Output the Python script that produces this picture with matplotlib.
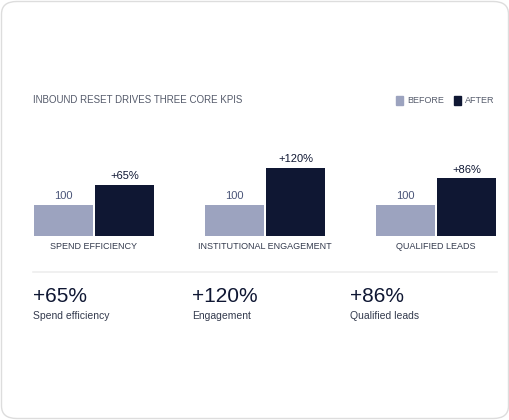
import matplotlib
matplotlib.use("Agg")
import matplotlib.pyplot as plt
from matplotlib.patches import FancyBboxPatch, Rectangle

categories = ["SPEND EFFICIENCY", "INSTITUTIONAL ENGAGEMENT", "QUALIFIED LEADS"]
before = [100, 100, 100]
after = [165, 220, 186]
after_labels = ["+65%", "+120%", "+86%"]
kpi_values = ["+65%", "+120%", "+86%"]
kpi_labels = ["Spend efficiency", "Engagement", "Qualified leads"]

plt.rcParams['font.family'] = ['Liberation Sans', 'DejaVu Sans']
W, H = 510, 420
fig = plt.figure(figsize=(5.1, 4.2), dpi=100)
fig.patch.set_facecolor("white")

card = FancyBboxPatch((1.5/W, 1.5/H), (W-3)/W, (H-3)/H, boxstyle="round,pad=0,rounding_size=0.03",
                      transform=fig.transFigure, facecolor="white", edgecolor="#dddddd", lw=1, zorder=-10)
fig.patches.append(card)

def fx(px): return px / W
def fy(py): return 1 - py / H

C_B, C_A = "#9ca3bf", "#0f1733"
ax = fig.add_axes([fx(33), fy(236), fx(497) - fx(33), fy(140) - fy(236)])
ax.set_zorder(5)
ax.patch.set_alpha(0)
ax.set_xlim(-0.356, 2.356)
ax.set_ylim(0, 310)
ax.axis("off")
w = 0.348
for i in range(len(categories)):
    ax.bar(i - 0.178, before[i], w, color=C_B)
    ax.bar(i + 0.178, after[i], w, color=C_A)
    ax.text(i - 0.178, before[i] + 12, str(before[i]), ha="center", va="bottom", fontsize=8, color="#4a5578")
    ax.text(i + 0.178, after[i] + 12, after_labels[i], ha="center", va="bottom", fontsize=8, color="#0f1733")
    ax.text(i, -18, categories[i], ha="center", va="top", fontsize=6.5, color="#333a4d")

fig.text(fx(33), fy(100), "INBOUND RESET DRIVES THREE CORE KPIS", fontsize=7, color="#555b6b", va="center")
for x0, c, lbl in [(396, C_B, "BEFORE"), (454, C_A, "AFTER")]:
    fig.patches.append(Rectangle((fx(x0), fy(105)), 7/W, 9/H, transform=fig.transFigure, color=c))
    fig.text(fx(x0 + 11), fy(100.5), lbl, fontsize=6.5, color="#555b6b", va="center")

fig.lines.append(plt.Line2D([fx(33), fx(497)], [fy(272), fy(272)], transform=fig.transFigure, color="#eeeeee", lw=1.2))

for x0, v, l in zip([33, 192, 350], kpi_values, kpi_labels):
    fig.text(fx(x0), fy(297), v, fontsize=15, color="#0f1733", va="center")
    fig.text(fx(x0), fy(316), l, fontsize=7.5, color="#333a4d", va="center")

fig.savefig("out.png", dpi=100)
